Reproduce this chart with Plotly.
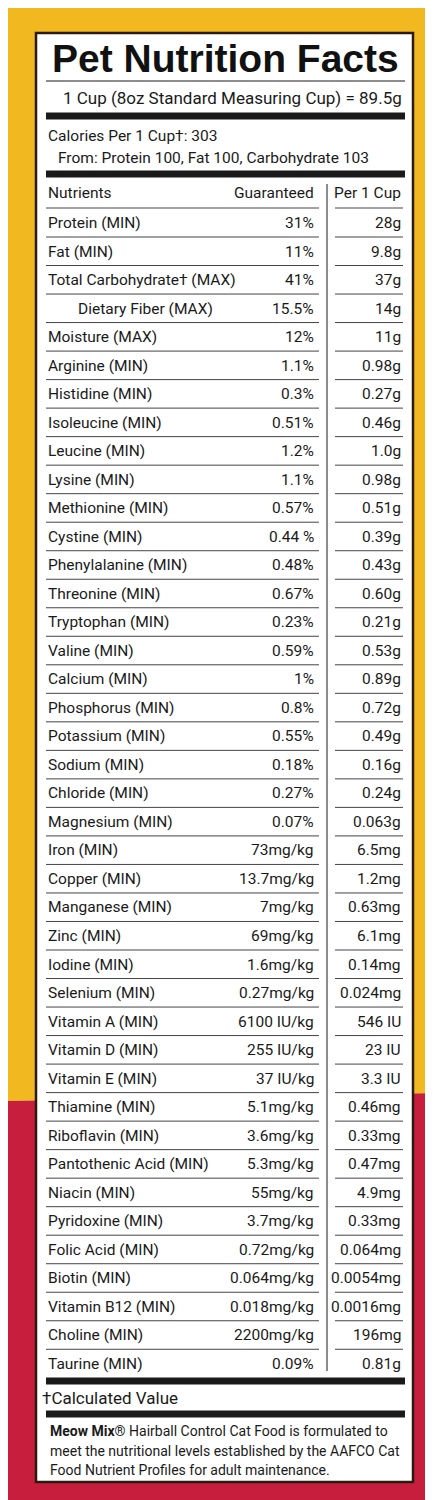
import plotly.graph_objects as go

nutrients = [
    "Protein (MIN)", "Fat (MIN)", "Total Carbohydrate† (MAX)", "Dietary Fiber (MAX)",
    "Moisture (MAX)", "Arginine (MIN)", "Histidine (MIN)", "Isoleucine (MIN)",
    "Leucine (MIN)", "Lysine (MIN)", "Methionine (MIN)", "Cystine (MIN)",
    "Phenylalanine (MIN)", "Threonine (MIN)", "Tryptophan (MIN)", "Valine (MIN)",
    "Calcium (MIN)", "Phosphorus (MIN)", "Potassium (MIN)", "Sodium (MIN)",
    "Chloride (MIN)", "Magnesium (MIN)", "Iron (MIN)", "Copper (MIN)",
    "Manganese (MIN)", "Zinc (MIN)", "Iodine (MIN)", "Selenium (MIN)",
    "Vitamin A (MIN)", "Vitamin D (MIN)", "Vitamin E (MIN)", "Thiamine (MIN)",
    "Riboflavin (MIN)", "Pantothenic Acid (MIN)", "Niacin (MIN)", "Pyridoxine (MIN)",
    "Folic Acid (MIN)", "Biotin (MIN)", "Vitamin B12 (MIN)", "Choline (MIN)",
    "Taurine (MIN)",
]
guaranteed = [
    "31%", "11%", "41%", "15.5%", "12%", "1.1%", "0.3%", "0.51%", "1.2%", "1.1%",
    "0.57%", "0.44 %", "0.48%", "0.67%", "0.23%", "0.59%", "1%", "0.8%", "0.55%",
    "0.18%", "0.27%", "0.07%", "73mg/kg", "13.7mg/kg", "7mg/kg", "69mg/kg",
    "1.6mg/kg", "0.27mg/kg", "6100 IU/kg", "255 IU/kg", "37 IU/kg", "5.1mg/kg",
    "3.6mg/kg", "5.3mg/kg", "55mg/kg", "3.7mg/kg", "0.72mg/kg", "0.064mg/kg",
    "0.018mg/kg", "2200mg/kg", "0.09%",
]
per_cup = [
    "28g", "9.8g", "37g", "14g", "11g", "0.98g", "0.27g", "0.46g", "1.0g", "0.98g",
    "0.51g", "0.39g", "0.43g", "0.60g", "0.21g", "0.53g", "0.89g", "0.72g", "0.49g",
    "0.16g", "0.24g", "0.063g", "6.5mg", "1.2mg", "0.63mg", "6.1mg", "0.14mg",
    "0.024mg", "546 IU", "23 IU", "3.3 IU", "0.46mg", "0.33mg", "0.47mg", "4.9mg",
    "0.33mg", "0.064mg", "0.0054mg", "0.0016mg", "196mg", "0.81g",
]
indented = ["Dietary Fiber (MAX)"]

W, H = 433, 1500
YELLOW, RED, INK = "#F1B820", "#C71E3D", "#1a1a1a"
FONT = "Roboto"
ROW0, STEP = 215, 28.52

shapes = [
    dict(type="path", path=f"M0,0 L{W},0 L{W},1085 L0,1093 Z", fillcolor=YELLOW, line_width=0, layer="below"),
    dict(type="path", path=f"M0,1093 L{W},1085 L{W},{H} L0,{H} Z", fillcolor=RED, line_width=0, layer="below"),
    dict(type="rect", x0=28, x1=405, y0=25, y1=1474, fillcolor="white", line=dict(color="#2a1a10", width=2.5)),
    dict(type="line", x0=38, x1=397, y0=73, y1=73, line=dict(color=INK, width=1)),
]
for yb in [108, 166, 1373, 1406]:
    shapes.append(dict(type="rect", x0=38, x1=397, y0=yb - 3.5, y1=yb + 3.5, fillcolor=INK, line_width=0))
# column divider
shapes.append(dict(type="line", x0=319, x1=319, y0=176, y1=1363, line=dict(color=INK, width=1)))

annotations = [
    dict(x=217, y=50, text="<b>Pet Nutrition Facts</b>", font=dict(family="Liberation Sans", size=39, color="#111")),
    dict(x=396, y=90, text="1 Cup (8oz Standard Measuring Cup) = 89.5g", xanchor="right", font=dict(size=17)),
    dict(x=38, y=128, text="Calories Per 1 Cup†: 303", xanchor="left", font=dict(size=15.5)),
    dict(x=48, y=150, text="From: Protein 100, Fat 100, Carbohydrate 103", xanchor="left", font=dict(size=15.5)),
    dict(x=38, y=185, text="Nutrients", xanchor="left", font=dict(size=15.5)),
    dict(x=308, y=185, text="Guaranteed", xanchor="right", font=dict(size=15.5)),
    dict(x=395, y=185, text="Per 1 Cup", xanchor="right", font=dict(size=15.5)),
    dict(x=32, y=1390, text="†Calculated Value", xanchor="left", font=dict(size=17)),
    dict(x=40, y=1423, text="<b>Meow Mix</b>® Hairball Control Cat Food is formulated to", xanchor="left", font=dict(size=14)),
    dict(x=40, y=1443, text="meet the nutritional levels established by the AAFCO Cat", xanchor="left", font=dict(size=14)),
    dict(x=40, y=1462, text="Food Nutrient Profiles for adult maintenance.", xanchor="left", font=dict(size=14)),
]
shapes.append(dict(type="line", x0=38, x1=311, y0=200, y1=200, line=dict(color="#444", width=1)))
shapes.append(dict(type="line", x0=327, x1=395, y0=200, y1=200, line=dict(color="#444", width=1)))

for i, (n, g, p) in enumerate(zip(nutrients, guaranteed, per_cup)):
    y = ROW0 + i * STEP
    annotations += [
        dict(x=68 if n in indented else 38, y=y, text=n, xanchor="left", font=dict(size=15.5)),
        dict(x=308, y=y, text=g, xanchor="right", font=dict(size=15.5)),
        dict(x=395, y=y, text=p, xanchor="right", font=dict(size=15.5)),
    ]
    if i < len(nutrients) - 1:
        shapes.append(dict(type="line", x0=38, x1=311, y0=y + 14, y1=y + 14, line=dict(color="#444", width=1)))
        shapes.append(dict(type="line", x0=327, x1=395, y0=y + 14, y1=y + 14, line=dict(color="#444", width=1)))

for a in annotations:
    a.update(xref="x", yref="y", showarrow=False, yanchor="middle")
    a["font"].setdefault("family", FONT)
    a["font"].setdefault("color", INK)

fig = go.Figure()
fig.update_layout(
    width=W, height=H, margin=dict(l=0, r=0, t=0, b=0),
    paper_bgcolor="white", plot_bgcolor="white",
    xaxis=dict(range=[0, W], visible=False, fixedrange=True),
    yaxis=dict(range=[H, 0], visible=False, fixedrange=True),
    shapes=shapes, annotations=annotations, showlegend=False,
)
fig.write_html("out.html")
